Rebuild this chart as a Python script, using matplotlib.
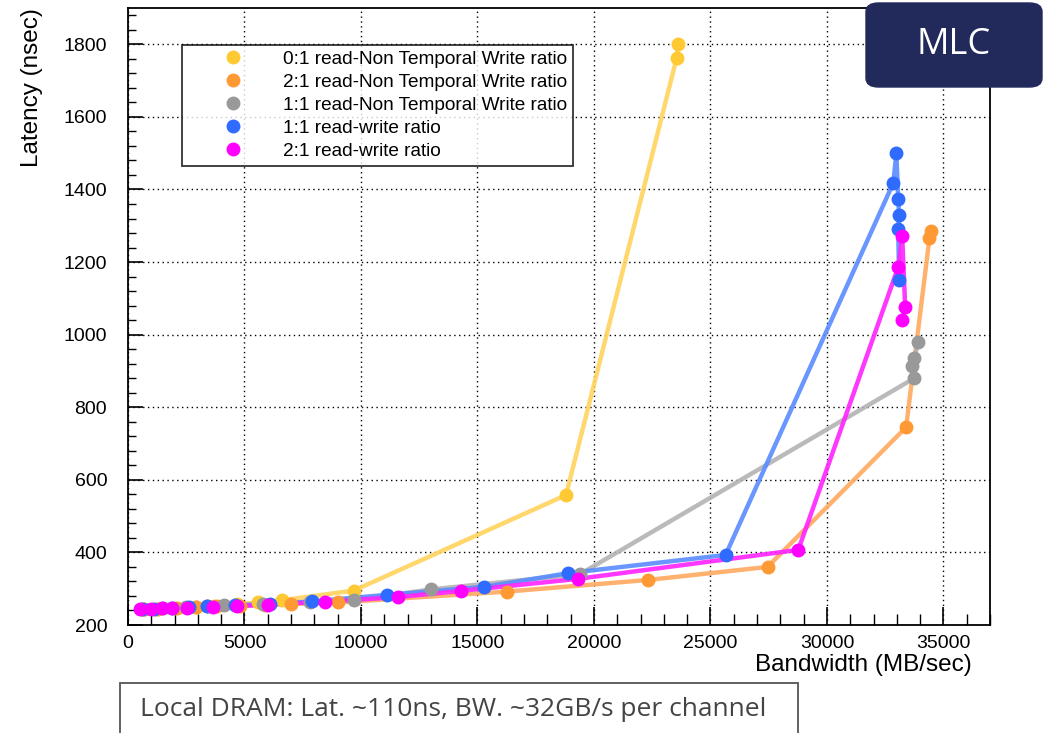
import matplotlib
matplotlib.use("Agg")
import matplotlib.pyplot as plt
from matplotlib.lines import Line2D
from matplotlib.patches import FancyBboxPatch, Rectangle
from matplotlib.ticker import MultipleLocator

# ---------------- data ----------------
labels = [
    "0:1 read-Non Temporal Write ratio",
    "2:1 read-Non Temporal Write ratio",
    "1:1 read-Non Temporal Write ratio",
    "1:1 read-write ratio",
    "2:1 read-write ratio",
]

yellow_bw = [600, 1200, 2000, 2900, 3700, 4700, 5600, 6600, 9700, 18800, 23550, 23600]
yellow_lat = [243, 245, 248, 250, 253, 257, 262, 268, 295, 558, 1762, 1800]

orange_bw = [700, 1300, 2100, 2900, 3800, 4800, 5900, 7000, 9000, 16250, 22300, 27450, 33400, 34400, 34450]
orange_lat = [244, 245, 247, 249, 251, 253, 256, 258, 262, 292, 324, 360, 745, 1265, 1285]

gray_bw = [700, 1500, 2500, 3400, 4100, 5800, 7800, 9700, 13000, 19400, 33750, 33660, 33750, 33920]
gray_lat = [244, 246, 249, 252, 255, 259, 264, 268, 298, 340, 880, 913, 936, 980]

blue_bw = [600, 1100, 1900, 2600, 3400, 4600, 6100, 7900, 11100, 15300, 18900, 25650,
           32850, 32980, 33060, 33100, 33060, 33100]
blue_lat = [244, 245, 247, 249, 251, 254, 257, 265, 283, 305, 343, 393,
            1418, 1500, 1374, 1330, 1291, 1150]

magenta_bw = [500, 1000, 1450, 1900, 2550, 3650, 4700, 6000, 8450, 11600, 14300, 19300,
              28770, 33060, 33230, 33360, 33230]
magenta_lat = [244, 245, 246, 247, 248, 250, 252, 256, 264, 277, 294, 327,
               407, 1186, 1272, 1076, 1040]

series_bw = [yellow_bw, orange_bw, gray_bw, blue_bw, magenta_bw]
series_lat = [yellow_lat, orange_lat, gray_lat, blue_lat, magenta_lat]
marker_colors = ["#ffc933", "#ff9933", "#999999", "#2f6bff", "#ff00ff"]
line_colors = ["#ffd35c", "#ffaa60", "#b3b3b3", "#5a8cff", "#ff22ff"]

x_ticks = [0, 5000, 10000, 15000, 20000, 25000, 30000, 35000]
y_ticks = [200, 400, 600, 800, 1000, 1200, 1400, 1600, 1800]

# ---------------- figure ----------------
plt.rcParams["font.family"] = ["Liberation Sans", "DejaVu Sans"]
W, H = 1045, 733
fig = plt.figure(figsize=(W / 100, H / 100), dpi=100)
ax = fig.add_axes([128 / W, 1 - 625 / H, (990 - 128) / W, (625 - 8) / H])

for bw, lat, mc, lc in zip(series_bw, series_lat, marker_colors, line_colors):
    ax.plot(bw, lat, color=lc, lw=3.2, alpha=0.9, solid_capstyle="round", zorder=3)
    ax.plot(bw, lat, ls="none", marker="o", ms=9, mfc=mc, mec=mc, zorder=4)

ax.set_xlim(0, 37000)
ax.set_ylim(200, 1900)
ax.set_xticks(x_ticks)
ax.set_yticks(y_ticks)
ax.xaxis.set_minor_locator(MultipleLocator(1000))
ax.yaxis.set_minor_locator(MultipleLocator(40))
ax.tick_params(axis="both", which="both", direction="in", labelsize=14, colors="black")
ax.tick_params(axis="x", which="major", length=13, width=1.2, pad=7)
ax.tick_params(axis="x", which="minor", length=8, width=1.0)
ax.tick_params(axis="y", which="major", length=11, width=1.2, pad=15)
ax.tick_params(axis="y", which="minor", length=6, width=1.0)
ax.grid(True, which="major", color="black", ls=(0, (1, 2.5)), lw=1.0)
for s in ax.spines.values():
    s.set_linewidth(1.3)
    s.set_color("black")

ax.set_ylabel("Latency (nsec)", fontsize=17.5, loc="top")
ax.yaxis.set_label_coords(-0.099, 1.0)
ax.set_xlabel("Bandwidth (MB/sec)", fontsize=17.5, loc="right")
ax.xaxis.set_label_coords(0.979, -0.047)

handles = [Line2D([], [], ls="none", marker="o", ms=9, mfc=c, mec=c) for c in marker_colors]
leg = ax.legend(handles, labels, loc="upper left",
                bbox_to_anchor=(182 / W, 1 - 45 / H), bbox_transform=fig.transFigure,
                fontsize=13.7, frameon=True, fancybox=False, borderpad=0.3,
                handlelength=4.77, handletextpad=0.25, labelspacing=0.3,
                borderaxespad=0.0)
leg.get_frame().set_edgecolor("black")
leg.get_frame().set_linewidth(1.3)
leg.set_zorder(6)

# MLC badge
badge = FancyBboxPatch((866 / W, 1 - 87 / H), (1042 - 866) / W, (87 - 3) / H,
                       boxstyle="round,pad=0,rounding_size=0.012",
                       transform=fig.transFigure, facecolor="#222a5c",
                       edgecolor="#222a5c", zorder=10)
fig.add_artist(badge)
fig.text(954 / W, 1 - 45 / H, "MLC", color="white", fontsize=26,
         family=["Open Sans", "DejaVu Sans"], ha="center", va="center", zorder=11)

# bottom note box
note = Rectangle((120 / W, -0.05), (798 - 120) / W, 0.05 + (733 - 683) / H,
                 transform=fig.transFigure, facecolor="white", edgecolor="#555555",
                 lw=1.3, zorder=10)
fig.add_artist(note)
fig.text(140 / W, 1 - 709 / H, "Local DRAM: Lat. ~110ns, BW. ~32GB/s per channel",
         color="#444444", fontsize=19, family=["Open Sans", "DejaVu Sans"],
         ha="left", va="center", zorder=11)

fig.savefig("out.png", dpi=100)
